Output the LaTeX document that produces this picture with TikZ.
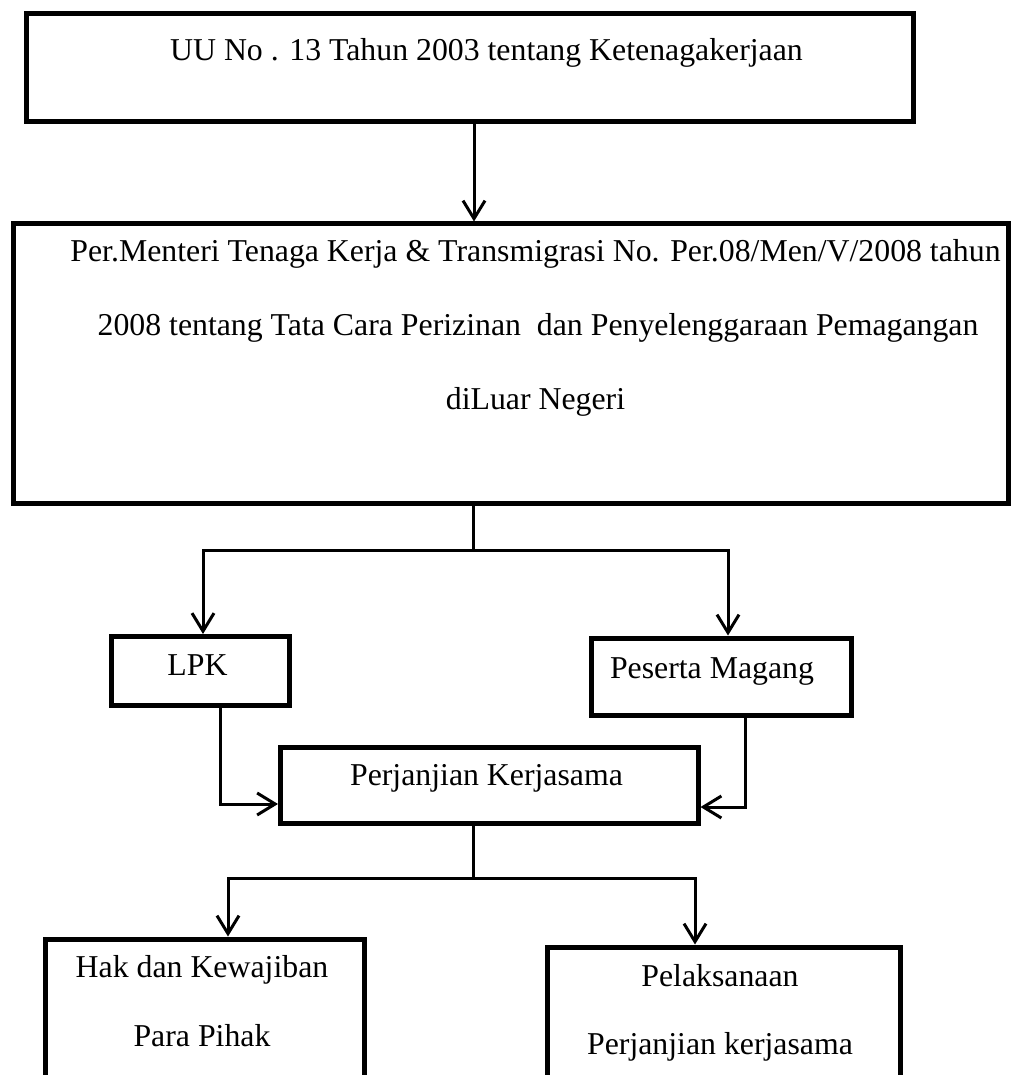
\documentclass[tikz,border=0pt]{standalone}
\usepackage{fontspec}
\setmainfont{Liberation Serif}
\usetikzlibrary{arrows.meta}
\tikzset{
  box/.style={draw, line width=5pt, rectangle, anchor=north west, inner sep=0pt, line join=miter},
  txt/.style={anchor=base, inner sep=0pt, font=\fontsize{31.8}{38}\selectfont},
  conn/.style={line width=3pt, line join=miter},
  arr/.style={conn, -{Straight Barb[length=18pt,width=22pt]}},
}
\begin{document}
\begin{tikzpicture}[x=1pt,y=-1pt]
\useasboundingbox (0,0) rectangle (1011,1075);
\fill[white] (0,0) rectangle (1011,1075);
\clip (0,0) rectangle (1011,1075);
% boxes
\node[box, minimum width=887pt, minimum height=108.5pt] (top) at (23.5,11) {};
\node[box, minimum width=995pt, minimum height=279pt] (reg) at (10.5,221.5) {};
\node[box, minimum width=177.5pt, minimum height=69pt] (lpk) at (109,634) {};
\node[box, minimum width=260pt, minimum height=77.5pt] (pes) at (588.5,635.5) {};
\node[box, minimum width=417.5pt, minimum height=76pt] (perj) at (278,744.5) {};
\node[box, minimum width=319.5pt, minimum height=200pt] (hak) at (42.5,936.5) {};
\node[box, minimum width=353pt, minimum height=200pt] (pel) at (544.5,944.5) {};
% texts
\node[txt] (tTop) at (486.5,61) {UU No . 13 Tahun 2003 tentang Ketenagakerjaan};
\node[txt] (tReg1) at (535.5,261) {Per.Menteri Tenaga Kerja \& Transmigrasi No. Per.08/Men/V/2008 tahun};
\node[txt] (tReg2) at (538,335) {2008 tentang Tata Cara Perizinan\ \ dan Penyelenggaraan Pemagangan};
\node[txt] (tReg3) at (535.5,409) {diLuar Negeri};
\node[txt] (tLpk) at (197.5,675) {LPK};
\node[txt] (tPes) at (712,678) {Peserta Magang};
\node[txt] (tPerj) at (486.5,785) {Perjanjian Kerjasama};
\node[txt] (tHak1) at (202,977) {Hak dan Kewajiban};
\node[txt] (tHak2) at (202,1046) {Para Pihak};
\node[txt] (tPel1) at (720,986) {Pelaksanaan};
\node[txt] (tPel2) at (720,1054) {Perjanjian kerjasama};
% connectors
\coordinate (j0) at (474,170);
\draw[arr] (top.south -| j0) -- (reg.north -| j0);
\coordinate (j1) at (473,550);
\coordinate (j1l) at (203,550);
\coordinate (j1r) at (728,550);
\draw[conn] (reg.south -| j1) -- (j1);
\draw[arr] (j1) -| (lpk.north -| j1l);
\draw[arr] (j1) -| (pes.north -| j1r);
\coordinate (c1) at (220,804);
\draw[arr] (lpk.south -| c1) |- (perj.west |- c1);
\coordinate (c2) at (745,807);
\draw[arr] (pes.south -| c2) |- (perj.east |- c2);
\coordinate (j2) at (473,878);
\coordinate (j2l) at (228,878);
\coordinate (j2r) at (695,878);
\draw[conn] (perj.south -| j2) -- (j2);
\draw[arr] (j2) -| (hak.north -| j2l);
\draw[arr] (j2) -| (pel.north -| j2r);
\end{tikzpicture}
\end{document}
